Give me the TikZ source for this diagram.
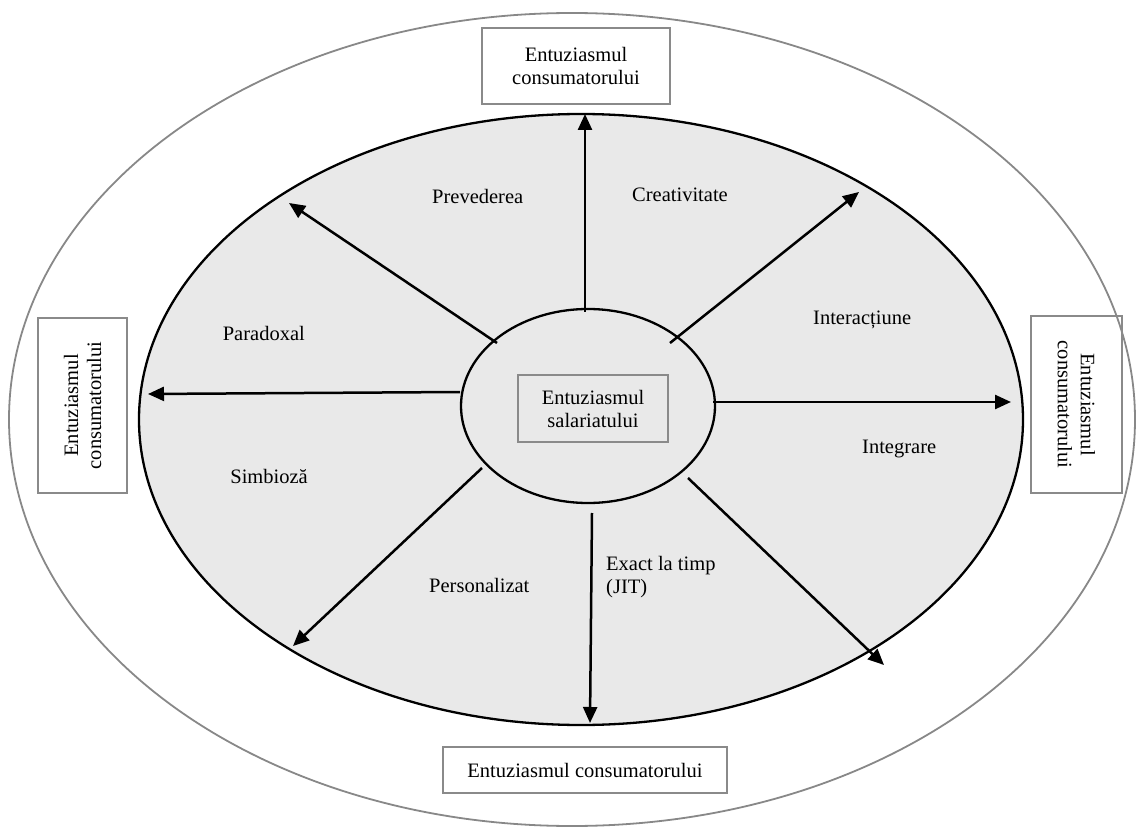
\documentclass[tikz,border=0pt]{standalone}
\usepackage{fontspec}
\setmainfont{Liberation Serif}
\usetikzlibrary{arrows.meta,shapes.geometric}
\definecolor{ringgray}{HTML}{888888}
\definecolor{boxgray}{HTML}{8A8A8A}
\definecolor{fieldgray}{HTML}{E9E9E9}
\begin{document}
\begin{tikzpicture}[x=1pt,y=-1pt,
  every node/.style={font=\fontsize{20.5}{23}\selectfont},
  lbl/.style={inner sep=0pt},
  box/.style={draw=boxgray, line width=2pt, align=center, inner sep=0pt},
  arr/.style={line width=2.5pt, -{Triangle[length=16pt,width=14pt]}},
]
\useasboundingbox (0,0) rectangle (1136,829);

% outer ring, shaded field and central ellipse
\node[ellipse, draw=ringgray, line width=1.8pt, inner sep=0pt,
      minimum width=1126pt, minimum height=813pt] (outer) at (572,419.5) {};
\node[ellipse, draw, fill=fieldgray, line width=2.3pt, inner sep=0pt,
      minimum width=884pt, minimum height=611pt] (field) at (581,419.5) {};
\node[ellipse, draw, fill=fieldgray, line width=2.3pt, inner sep=0pt,
      minimum width=254pt, minimum height=194pt] (core) at (588,406) {};

% central box
\node[box, minimum width=150pt, minimum height=67pt] (emp) at (593,408.5)
  {Entuziasmul\\salariatului};

% consumer boxes around the field
\node[box, minimum width=188pt, minimum height=76pt] (ctop) at (576,66)
  {Entuziasmul\\consumatorului};
\node[box, rotate=90, minimum width=175pt, minimum height=89pt] (cleft) at (82.5,405.5)
  {Entuziasmul\\consumatorului};
\node[box, rotate=-90, minimum width=177pt, minimum height=91pt] (cright) at (1076.5,404.5)
  {Entuziasmul\\consumatorului};
\node[box, minimum width=284pt, minimum height=46pt] (cbot) at (585,770)
  {Entuziasmul consumatorului};

% arrow end points
\coordinate (sN)  at (585,312);  \coordinate (eN)  at (585,114);
\coordinate (sNW) at (497,343);  \coordinate (eNW) at (289,203);
\coordinate (sNE) at (670,343);  \coordinate (eNE) at (859,192);
\coordinate (sW)  at (460,392);  \coordinate (eW)  at (148,394);
\coordinate (sE)  at (713,402);  \coordinate (eE)  at (1011,402);
\coordinate (sSW) at (482,468);  \coordinate (eSW) at (293,646);
\coordinate (sS)  at (592,513);  \coordinate (eS)  at (590,723);
\coordinate (sSE) at (688,478);  \coordinate (eSE) at (884,665);

\foreach \d in {N,NW,NE,W,E,SW,S,SE}
  \draw[arr] (s\d) -- (e\d);

% sector labels
\node[lbl, anchor=base west] (l1) at (432,204) {Prevederea};
\node[lbl, anchor=base east] (l2) at (728,202) {Creativitate};
\node[lbl, anchor=base west] (l3) at (813,324) {Interacțiune};
\node[lbl, anchor=base east] (l4) at (305,341) {Paradoxal};
\node[lbl, anchor=base west] (l5) at (862,453) {Integrare};
\node[lbl, anchor=base east] (l6) at (308,483) {Simbioză};
\node[lbl, anchor=base west] (l7) at (429,592) {Personalizat};
\node[lbl, anchor=base west, align=left] (l8) at (606,593) {Exact la timp\\(JIT)};
\end{tikzpicture}
\end{document}
